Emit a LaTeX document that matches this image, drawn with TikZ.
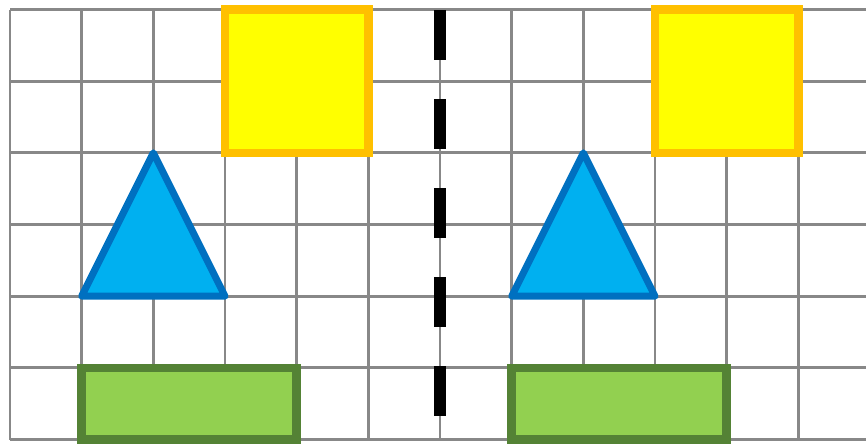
\documentclass[tikz,border=0pt]{standalone}
\definecolor{gridgray}{HTML}{888888}
\definecolor{sqfill}{HTML}{FFFF00}
\definecolor{sqdraw}{HTML}{FFC000}
\definecolor{trifill}{HTML}{00B0F0}
\definecolor{tridraw}{HTML}{0070C0}
\definecolor{recfill}{HTML}{92D050}
\definecolor{recdraw}{HTML}{548235}
\tikzset{
  gridline/.style={draw=gridgray, line width=2.8pt},
  yellowsq/.style={fill=sqfill, draw=sqdraw, line width=8.5pt},
  bluetri/.style={fill=trifill, draw=tridraw, line width=7pt, line join=round},
  greenrec/.style={fill=recfill, draw=recdraw, line width=8.5pt},
  axisline/.style={draw=black, line width=11.5pt, dash pattern=on 50pt off 39pt},
}
\begin{document}
\begin{tikzpicture}[x=1pt,y=-1pt]
\useasboundingbox (0,0) rectangle (866,445);
\def\s{71.67}
% grid
\foreach \k in {0,...,11} {
  \draw[gridline] ({10+\k*\s},9.5) -- ({10+\k*\s},439.5);
}
\foreach \k in {0,...,6} {
  \draw[gridline] (10,{9.5+\k*\s}) -- (870,{9.5+\k*\s});
}
% left half
\draw[yellowsq] ({10+3*\s},9.5) rectangle ({10+5*\s},{9.5+2*\s});
\draw[bluetri] ({10+2*\s},{9.5+2*\s}) -- ({10+\s},{9.5+4*\s}) -- ({10+3*\s},{9.5+4*\s}) -- cycle;
\draw[greenrec] ({10+\s},{9.5+5*\s}) rectangle ({10+4*\s},{9.5+6*\s});
% right half
\draw[yellowsq] ({10+9*\s},9.5) rectangle ({10+11*\s},{9.5+2*\s});
\draw[bluetri] ({10+8*\s},{9.5+2*\s}) -- ({10+7*\s},{9.5+4*\s}) -- ({10+9*\s},{9.5+4*\s}) -- cycle;
\draw[greenrec] ({10+7*\s},{9.5+5*\s}) rectangle ({10+10*\s},{9.5+6*\s});
% mirror line
\draw[axisline] ({10+6*\s},10) -- ({10+6*\s},440);
\end{tikzpicture}
\end{document}
